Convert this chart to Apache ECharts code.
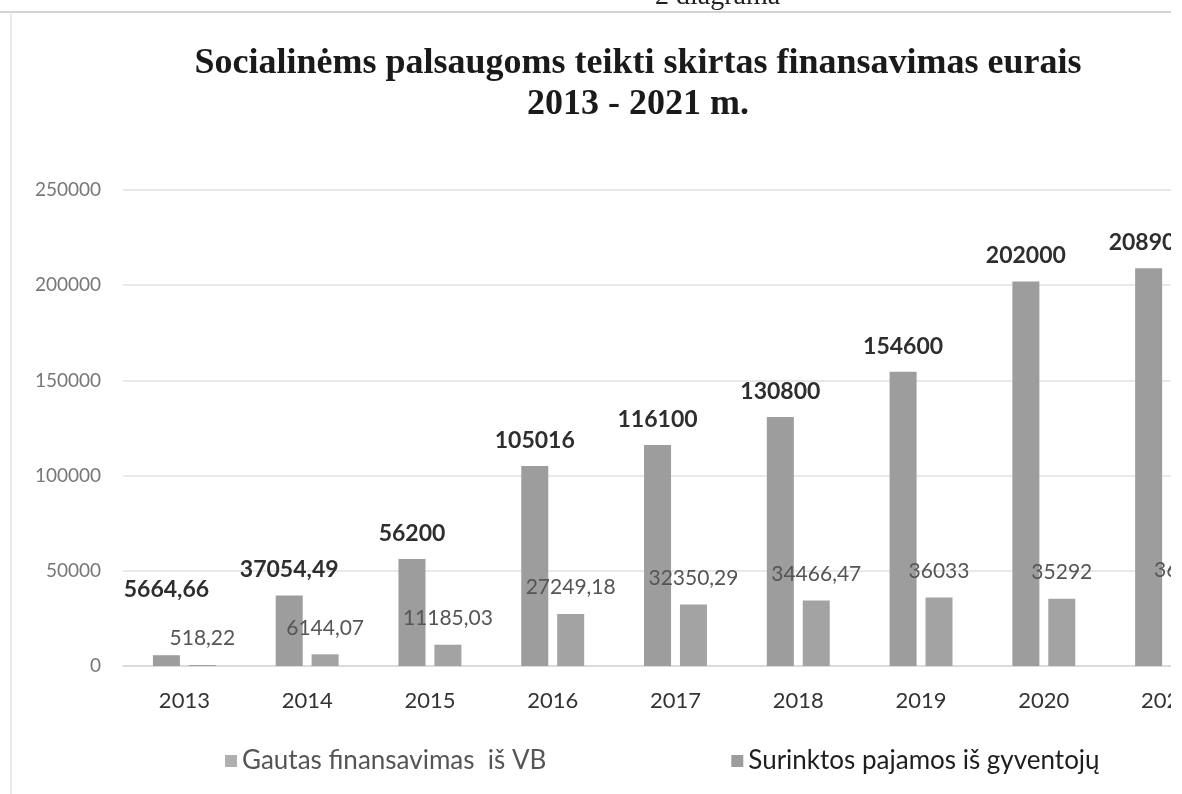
<!DOCTYPE html>
<html>
<head>
<meta charset="utf-8">
<script src="https://cdn.jsdelivr.net/npm/echarts@6/dist/echarts.min.js"></script>
<style>
  html, body { margin: 0; padding: 0; background: #fff; overflow: hidden; }
  #wrap { width: 1171px; height: 794px; overflow: hidden; position: relative; }
  #chart { width: 1230px; height: 794px; }
</style>
</head>
<body>
<div id="wrap"><div id="chart"></div></div>
<script>
var years = ['2013', '2014', '2015', '2016', '2017', '2018', '2019', '2020', '2021'];
var gautasVB = [5664.66, 37054.49, 56200, 105016, 116100, 130800, 154600, 202000, 208900];
var surinktos = [518.22, 6144.07, 11185.03, 27249.18, 32350.29, 34466.47, 36033, 35292, 36500];
var yTicks = [0, 50000, 100000, 150000, 200000, 250000];

function lt(v) {
    return String(v).replace('.', ',');
}

var myChart = echarts.init(document.getElementById('chart'));

myChart.setOption({
    backgroundColor: '#fff',
    animation: false,
    graphic: [
        { type: 'line', shape: { x1: 0, y1: 12, x2: 1182, y2: 12 }, style: { stroke: '#d4d4d4', lineWidth: 2 } },
        { type: 'line', shape: { x1: 11, y1: 12, x2: 11, y2: 794 }, style: { stroke: '#e4e4e4', lineWidth: 1.5 } },
        {
            type: 'text', left: 655, top: -17,
            style: { text: '2 diagrama', font: '28px "Liberation Serif"', fill: '#222' }
        }
    ],
    title: {
        text: 'Socialinėms palsaugoms teikti skirtas finansavimas eurais\n2013 - 2021 m.',
        left: 633,
        textAlign: 'center',
        top: 38,
        textStyle: {
            fontFamily: 'Liberation Serif',
            fontWeight: 'bold',
            fontSize: 36,
            lineHeight: 41,
            color: '#1a1a1a'
        }
    },
    legend: {
        bottom: 15,
        left: 220,
        itemGap: 185,
        itemWidth: 12,
        itemHeight: 12,
        icon: 'rect',
        textStyle: { fontFamily: 'Lato', fontSize: 26, color: '#555' },
        data: [
            { name: 'Gautas finansavimas  iš VB', itemStyle: { color: '#b0b0b0' } },
            { name: 'Surinktos pajamos iš gyventojų', itemStyle: { color: '#9c9c9c' }, textStyle: { color: '#1e1e1e' } }
        ]
    },
    grid: {
        left: 123,
        right: 2,
        top: 190,
        bottom: 128,
        containLabel: false
    },
    xAxis: {
        type: 'category',
        data: years,
        axisLine: { lineStyle: { color: '#d6d6d6', width: 1.5 } },
        axisTick: { show: false },
        axisLabel: { fontFamily: 'Lato', fontSize: 22, color: '#333', margin: 24 }
    },
    yAxis: {
        type: 'value',
        min: yTicks[0],
        max: yTicks[yTicks.length - 1],
        interval: yTicks[1] - yTicks[0],
        axisLine: { show: false },
        axisTick: { show: false },
        splitLine: { lineStyle: { color: '#e2e2e2', width: 1.5 } },
        axisLabel: {
            fontFamily: 'Lato', fontSize: 19, color: '#777', margin: 22,
            formatter: function (v) { return String(v); }
        }
    },
    series: [
        {
            name: 'Gautas finansavimas  iš VB',
            type: 'bar',
            barWidth: '22%',
            barGap: '33%',
            itemStyle: { color: '#9d9d9d' },
            label: {
                show: true,
                position: 'top',
                distance: 14,
                fontFamily: 'Lato',
                fontWeight: 'bold',
                fontSize: 23,
                color: '#2e2e2e',
                formatter: function (p) { return lt(p.value); }
            },
            data: gautasVB.map(function (v, i) {
                return i === 0 ? { value: v, label: { offset: [0, -40] } } : v;
            })
        },
        {
            name: 'Surinktos pajamos iš gyventojų',
            type: 'bar',
            barWidth: '22%',
            itemStyle: { color: '#a3a3a3' },
            label: {
                show: true,
                position: 'top',
                distance: 16,
                fontFamily: 'Lato',
                fontSize: 21,
                color: '#555',
                formatter: function (p) { return lt(p.value); }
            },
            data: surinktos
        }
    ]
});
</script>
</body>
</html>
